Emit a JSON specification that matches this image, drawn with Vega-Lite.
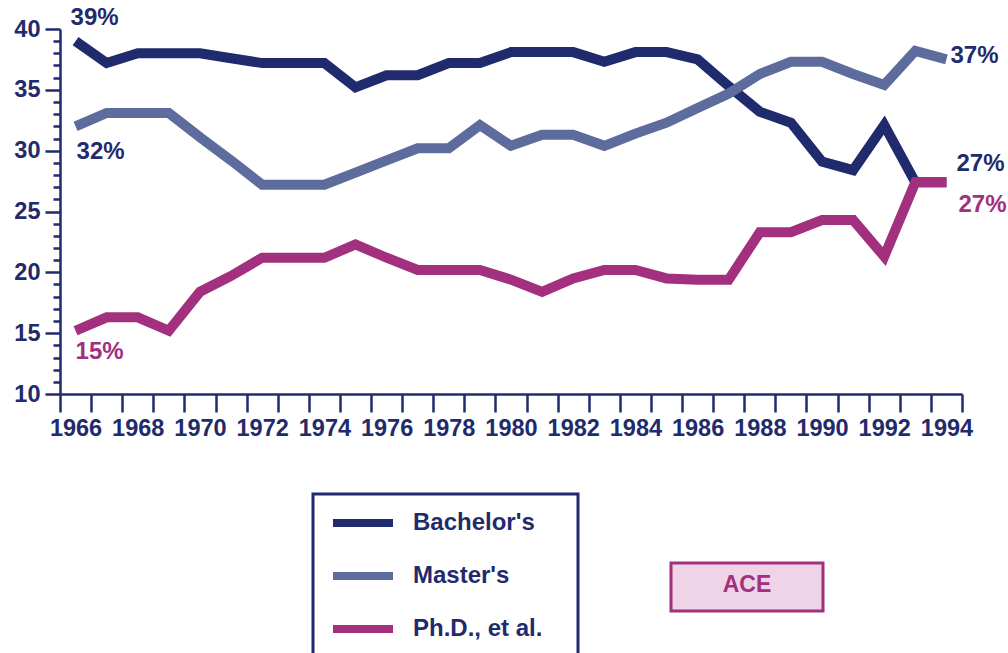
{
  "$schema": "https://vega.github.io/schema/vega-lite/v6.json",
  "width": 902,
  "height": 365,
  "autosize": {"type": "none"},
  "padding": {"left": 60, "top": 29, "right": 46, "bottom": 259},
  "background": "white",
  "config": {"view": {"stroke": null}, "font": "Liberation Sans", "legend": {"strokeWidth": 3}},
  "datasets": {
    "lines": [
      {"series": "Bachelor's", "year": 1966, "pct": 39.0},
      {"series": "Bachelor's", "year": 1967, "pct": 37.2},
      {"series": "Bachelor's", "year": 1968, "pct": 38.0},
      {"series": "Bachelor's", "year": 1969, "pct": 38.0},
      {"series": "Bachelor's", "year": 1970, "pct": 38.0},
      {"series": "Bachelor's", "year": 1971, "pct": 37.6},
      {"series": "Bachelor's", "year": 1972, "pct": 37.2},
      {"series": "Bachelor's", "year": 1973, "pct": 37.2},
      {"series": "Bachelor's", "year": 1974, "pct": 37.2},
      {"series": "Bachelor's", "year": 1975, "pct": 35.2},
      {"series": "Bachelor's", "year": 1976, "pct": 36.2},
      {"series": "Bachelor's", "year": 1977, "pct": 36.2},
      {"series": "Bachelor's", "year": 1978, "pct": 37.2},
      {"series": "Bachelor's", "year": 1979, "pct": 37.2},
      {"series": "Bachelor's", "year": 1980, "pct": 38.1},
      {"series": "Bachelor's", "year": 1981, "pct": 38.1},
      {"series": "Bachelor's", "year": 1982, "pct": 38.1},
      {"series": "Bachelor's", "year": 1983, "pct": 37.3},
      {"series": "Bachelor's", "year": 1984, "pct": 38.1},
      {"series": "Bachelor's", "year": 1985, "pct": 38.1},
      {"series": "Bachelor's", "year": 1986, "pct": 37.5},
      {"series": "Bachelor's", "year": 1987, "pct": 35.3},
      {"series": "Bachelor's", "year": 1988, "pct": 33.2},
      {"series": "Bachelor's", "year": 1989, "pct": 32.3},
      {"series": "Bachelor's", "year": 1990, "pct": 29.1},
      {"series": "Bachelor's", "year": 1991, "pct": 28.4},
      {"series": "Bachelor's", "year": 1992, "pct": 32.1},
      {"series": "Bachelor's", "year": 1993, "pct": 27.4},
      {"series": "Bachelor's", "year": 1994, "pct": 27.4},
      {"series": "Master's", "year": 1966, "pct": 32.0},
      {"series": "Master's", "year": 1967, "pct": 33.1},
      {"series": "Master's", "year": 1968, "pct": 33.1},
      {"series": "Master's", "year": 1969, "pct": 33.1},
      {"series": "Master's", "year": 1970, "pct": 31.1},
      {"series": "Master's", "year": 1971, "pct": 29.2},
      {"series": "Master's", "year": 1972, "pct": 27.2},
      {"series": "Master's", "year": 1973, "pct": 27.2},
      {"series": "Master's", "year": 1974, "pct": 27.2},
      {"series": "Master's", "year": 1975, "pct": 28.2},
      {"series": "Master's", "year": 1976, "pct": 29.2},
      {"series": "Master's", "year": 1977, "pct": 30.2},
      {"series": "Master's", "year": 1978, "pct": 30.2},
      {"series": "Master's", "year": 1979, "pct": 32.1},
      {"series": "Master's", "year": 1980, "pct": 30.4},
      {"series": "Master's", "year": 1981, "pct": 31.3},
      {"series": "Master's", "year": 1982, "pct": 31.3},
      {"series": "Master's", "year": 1983, "pct": 30.4},
      {"series": "Master's", "year": 1984, "pct": 31.4},
      {"series": "Master's", "year": 1985, "pct": 32.3},
      {"series": "Master's", "year": 1986, "pct": 33.5},
      {"series": "Master's", "year": 1987, "pct": 34.7},
      {"series": "Master's", "year": 1988, "pct": 36.3},
      {"series": "Master's", "year": 1989, "pct": 37.3},
      {"series": "Master's", "year": 1990, "pct": 37.3},
      {"series": "Master's", "year": 1991, "pct": 36.3},
      {"series": "Master's", "year": 1992, "pct": 35.4},
      {"series": "Master's", "year": 1993, "pct": 38.2},
      {"series": "Master's", "year": 1994, "pct": 37.5},
      {"series": "Ph.D., et al.", "year": 1966, "pct": 15.2},
      {"series": "Ph.D., et al.", "year": 1967, "pct": 16.3},
      {"series": "Ph.D., et al.", "year": 1968, "pct": 16.3},
      {"series": "Ph.D., et al.", "year": 1969, "pct": 15.2},
      {"series": "Ph.D., et al.", "year": 1970, "pct": 18.4},
      {"series": "Ph.D., et al.", "year": 1971, "pct": 19.7},
      {"series": "Ph.D., et al.", "year": 1972, "pct": 21.2},
      {"series": "Ph.D., et al.", "year": 1973, "pct": 21.2},
      {"series": "Ph.D., et al.", "year": 1974, "pct": 21.2},
      {"series": "Ph.D., et al.", "year": 1975, "pct": 22.3},
      {"series": "Ph.D., et al.", "year": 1976, "pct": 21.2},
      {"series": "Ph.D., et al.", "year": 1977, "pct": 20.2},
      {"series": "Ph.D., et al.", "year": 1978, "pct": 20.2},
      {"series": "Ph.D., et al.", "year": 1979, "pct": 20.2},
      {"series": "Ph.D., et al.", "year": 1980, "pct": 19.4},
      {"series": "Ph.D., et al.", "year": 1981, "pct": 18.4},
      {"series": "Ph.D., et al.", "year": 1982, "pct": 19.5},
      {"series": "Ph.D., et al.", "year": 1983, "pct": 20.2},
      {"series": "Ph.D., et al.", "year": 1984, "pct": 20.2},
      {"series": "Ph.D., et al.", "year": 1985, "pct": 19.5},
      {"series": "Ph.D., et al.", "year": 1986, "pct": 19.4},
      {"series": "Ph.D., et al.", "year": 1987, "pct": 19.4},
      {"series": "Ph.D., et al.", "year": 1988, "pct": 23.3},
      {"series": "Ph.D., et al.", "year": 1989, "pct": 23.3},
      {"series": "Ph.D., et al.", "year": 1990, "pct": 24.3},
      {"series": "Ph.D., et al.", "year": 1991, "pct": 24.3},
      {"series": "Ph.D., et al.", "year": 1992, "pct": 21.3},
      {"series": "Ph.D., et al.", "year": 1993, "pct": 27.4},
      {"series": "Ph.D., et al.", "year": 1994, "pct": 27.4}
    ]
  },
  "encoding": {
    "x": {
      "field": "year",
      "type": "ordinal",
      "bandPosition": 0.5,
      "scale": {"type": "band", "paddingInner": 0, "paddingOuter": 0},
      "axis": {
        "title": null,
        "tickBand": "extent",
        "labelAngle": 0,
        "labelExpr": "datum.value % 2 == 0 ? datum.label : ''",
        "labelFont": "Liberation Sans",
        "labelFontWeight": "bold",
        "labelFontSize": 23.5,
        "labelColor": "#1f2b6c",
        "labelPadding": 4,
        "labelOverlap": false,
        "labelFlush": false,
        "labelBound": false,
        "tickSize": 18,
        "tickWidth": 2.5,
        "tickColor": "#1f2b6c",
        "domainColor": "#1f2b6c",
        "domainWidth": 2.5,
        "grid": false
      }
    },
    "y": {
      "field": "pct",
      "type": "quantitative",
      "scale": {"domain": [10, 40], "nice": false, "zero": false},
      "axis": {
        "title": null,
        "values": [10,11,12,13,14,15,16,17,18,19,20,21,22,23,24,25,26,27,28,29,30,31,32,33,34,35,36,37,38,39,40],
        "labelExpr": "datum.value % 5 == 0 ? datum.label : ''",
        "labelFont": "Liberation Sans",
        "labelFontWeight": "bold",
        "labelFontSize": 23.5,
        "labelColor": "#1f2b6c",
        "labelPadding": 5,
        "labelOverlap": false,
        "labelBound": false,
        "labelFlush": false,
        "tickSize": 15,
        "tickWidth": 2.5,
        "tickColor": "#1f2b6c",
        "tickDash": {"condition": {"test": "datum.value % 5 != 0", "value": [7, 30]}, "value": []},
        "domainColor": "#1f2b6c",
        "domainWidth": 2.5,
        "grid": false
      }
    }
  },
  "layer": [
    {
      "data": {"name": "lines"},
      "mark": {"type": "line", "strokeWidth": 10, "strokeJoin": "miter", "strokeCap": "butt"},
      "encoding": {
        "color": {
          "field": "series",
          "type": "nominal",
          "scale": {"domain": ["Bachelor's", "Master's", "Ph.D., et al."], "range": ["#1f2b6c", "#5d6c9c", "#a2307e"]},
          "legend": {
            "title": null,
            "orient": "none",
            "legendX": 253,
            "legendY": 465,
            "symbolType": "M-1.8,0H10.2",
            "symbolSize": 100,
            "symbolStrokeWidth": 8,
            "labelFont": "Liberation Sans",
            "labelFontWeight": "bold",
            "labelFontSize": 24,
            "labelColor": "#1f2b6c",
            "labelOffset": 59,
            "labelLimit": 400,
            "labelExpr": "datum.label + '\u2800'",
            "padding": 17,
            "rowPadding": 21,
            "strokeColor": "#1f2b6c",
            "fillColor": "white"
          }
        }
      }
    },
    {
      "data": {"values": [{"src": "ACE"}]},
      "mark": {"type": "point", "opacity": 0},
      "encoding": {
        "x": null,
        "y": null,
        "shape": {
          "field": "src",
          "type": "nominal",
          "legend": {
            "title": "ACE",
            "titleAnchor": "middle",
            "titleFont": "Liberation Sans",
            "titleFontWeight": "bold",
            "titleFontSize": 23,
            "titleColor": "#a2307e",
            "titlePadding": 0.5,
            "titleLimit": 400,
            "orient": "none",
            "legendX": 611,
            "legendY": 534,
            "symbolSize": 0.01,
            "symbolStrokeWidth": 0.01,
            "symbolOpacity": 0,
            "labelOffset": 128,
            "labelFontSize": 2,
            "labelColor": "#efd3e6",
            "labelLimit": 400,
            "labelExpr": "'\u00a0'",
            "padding": 11,
            "strokeColor": "#a2307e",
            "fillColor": "#efd3e6"
          }
        }
      }
    },
    {
      "data": {"values": [{"year": 1966, "pct": 39.0, "label": "39%"}]},
      "mark": {"type": "text", "align": "left", "baseline": "alphabetic", "dx": -5, "dy": -16, "fontSize": 24, "fontWeight": "bold", "font": "Liberation Sans", "color": "#1f2b6c"},
      "encoding": {"text": {"field": "label"}}
    },
    {
      "data": {"values": [{"year": 1966, "pct": 32.0, "label": "32%"}]},
      "mark": {"type": "text", "align": "left", "baseline": "alphabetic", "dx": 1, "dy": 33, "fontSize": 24, "fontWeight": "bold", "font": "Liberation Sans", "color": "#1f2b6c"},
      "encoding": {"text": {"field": "label"}}
    },
    {
      "data": {"values": [{"year": 1966, "pct": 15.2, "label": "15%"}]},
      "mark": {"type": "text", "align": "left", "baseline": "alphabetic", "dx": 0, "dy": 28, "fontSize": 24, "fontWeight": "bold", "font": "Liberation Sans", "color": "#a2307e"},
      "encoding": {"text": {"field": "label"}}
    },
    {
      "data": {"values": [{"year": 1994, "pct": 37.5, "label": "37%"}]},
      "mark": {"type": "text", "align": "left", "baseline": "alphabetic", "dx": 4, "dy": 4, "fontSize": 24, "fontWeight": "bold", "font": "Liberation Sans", "color": "#1f2b6c"},
      "encoding": {"text": {"field": "label"}}
    },
    {
      "data": {"values": [{"year": 1994, "pct": 27.4, "label": "27%"}]},
      "mark": {"type": "text", "align": "left", "baseline": "alphabetic", "dx": 10, "dy": -11, "fontSize": 24, "fontWeight": "bold", "font": "Liberation Sans", "color": "#1f2b6c"},
      "encoding": {"text": {"field": "label"}}
    },
    {
      "data": {"values": [{"year": 1994, "pct": 27.4, "label": "27%"}]},
      "mark": {"type": "text", "align": "left", "baseline": "alphabetic", "dx": 12, "dy": 30, "fontSize": 24, "fontWeight": "bold", "font": "Liberation Sans", "color": "#a2307e"},
      "encoding": {"text": {"field": "label"}}
    }
  ]
}
